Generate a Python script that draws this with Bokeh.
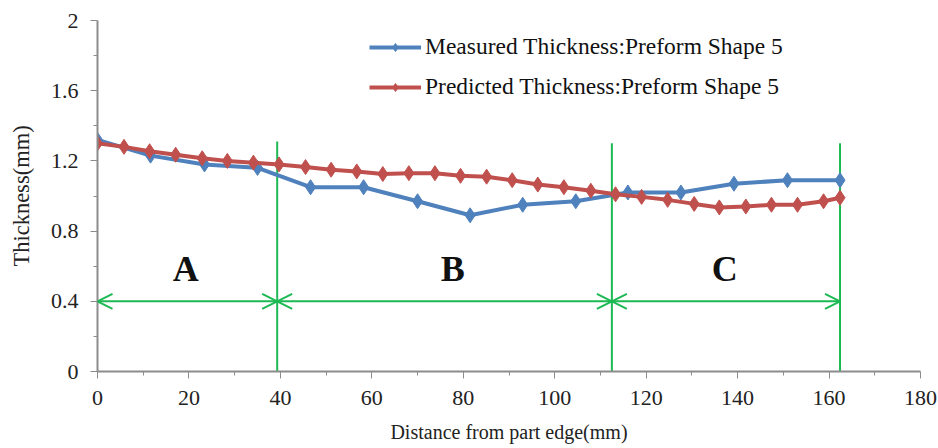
from bokeh.plotting import figure
from bokeh.models import (Range1d, FixedTicker, Legend, LegendItem, Arrow, OpenHead,
                          ColumnDataSource, Label)
from bokeh.embed import file_html
from bokeh.resources import INLINE

# ---- data ----
measured_x = [0, 11.6, 23.4, 35.0, 46.6, 58.2, 70.0, 81.5, 93.0, 104.6, 116.0, 127.6, 139.2, 150.9, 162.4]
measured_y = [1.32, 1.23, 1.18, 1.16, 1.05, 1.05, 0.97, 0.89, 0.95, 0.97, 1.02, 1.02, 1.07, 1.09, 1.09]

predicted_x = [0, 5.8, 11.4, 17.1, 22.9, 28.4, 34.1, 39.7, 45.5, 51.1, 56.7, 62.4, 68.1, 73.8, 79.4,
               85.1, 90.7, 96.3, 102.0, 107.9, 113.3, 119.0, 124.7, 130.5, 136.0, 141.8, 147.4,
               153.1, 158.8, 162.4]
predicted_y = [1.30, 1.28, 1.255, 1.235, 1.215, 1.20, 1.19, 1.18, 1.165, 1.15, 1.14, 1.125, 1.13,
               1.13, 1.115, 1.11, 1.09, 1.065, 1.05, 1.03, 1.01, 0.995, 0.978, 0.955, 0.935, 0.94,
               0.95, 0.95, 0.97, 0.99]

series_names = ["Measured Thickness:Preform Shape 5", "Predicted Thickness:Preform Shape 5"]

zone_bounds = [0, 39.3, 112.5, 162.4]
zone_line_tops = [1.31, 1.30, 1.30]
zone_arrow_y = 0.4
zone_names = ["A", "B", "C"]
zone_label_x = [19.3, 77.7, 137.2]
zone_label_y = 0.585

x_ticks = [0, 20, 40, 60, 80, 100, 120, 140, 160, 180]
y_ticks = [0, 0.4, 0.8, 1.2, 1.6, 2.0]
y_tick_labels = ["0", "0.4", "0.8", "1.2", "1.6", "2"]

BLUE = "#4F81BD"
RED = "#C0504D"
GREEN = "#1DB954"
AXIS = "#8c8c8c"
FONT = "Liberation Serif"

p = figure(width=938, height=448, output_backend="svg", toolbar_location=None,
           x_range=Range1d(0, 180), y_range=Range1d(0, 2),
           min_border_left=97, min_border_right=18, min_border_top=20, min_border_bottom=77)
p.outline_line_color = None
p.grid.visible = False
p.background_fill_color = "white"

# axes
p.xaxis.ticker = FixedTicker(ticks=x_ticks, minor_ticks=[v + 10 for v in x_ticks[:-1]])
p.yaxis.ticker = FixedTicker(ticks=y_ticks, minor_ticks=[v + 0.2 for v in y_ticks[:-1]])
p.yaxis.major_label_overrides = {v: s for v, s in zip(y_ticks, y_tick_labels)}
p.xaxis.major_label_overrides = {v: str(v) for v in x_ticks}
for ax in (p.xaxis, p.yaxis):
    ax.axis_line_color = AXIS
    ax.axis_line_width = 2
    ax.major_tick_line_color = AXIS
    ax.minor_tick_line_color = AXIS
    ax.major_tick_out = 7
    ax.major_tick_in = 0
    ax.minor_tick_out = 4
    ax.minor_tick_in = 0
    ax.major_label_text_font = FONT
    ax.major_label_text_font_size = "22px"
    ax.major_label_text_color = "#222222"
    ax.axis_label_text_font = FONT
    ax.axis_label_text_font_style = "normal"
    ax.axis_label_text_color = "#222222"
p.xaxis.axis_label = "Distance from part edge(mm)"
p.yaxis.axis_label = "Thickness(mm)"
p.xaxis.axis_label_text_font_size = "20px"
p.yaxis.axis_label_text_font_size = "22.5px"
p.xaxis.major_label_standoff = 12
p.yaxis.major_label_standoff = 12
p.xaxis.axis_label_standoff = 13
p.yaxis.axis_label_standoff = 14

# zone lines and arrows
for i in range(3):
    xb = zone_bounds[i + 1]
    p.segment(x0=[xb], y0=[0], x1=[xb], y1=[zone_line_tops[i]], line_color=GREEN, line_width=2)
for i in range(3):
    p.add_layout(Arrow(start=OpenHead(size=15, line_color=GREEN, line_width=2),
                       end=OpenHead(size=15, line_color=GREEN, line_width=2),
                       x_start=zone_bounds[i], y_start=zone_arrow_y,
                       x_end=zone_bounds[i + 1], y_end=zone_arrow_y,
                       line_color=GREEN, line_width=2))
    p.add_layout(Label(x=zone_label_x[i], y=zone_label_y,
                       text=zone_names[i], text_font=FONT, text_font_size="36px",
                       text_font_style="bold", text_align="center", text_baseline="middle",
                       text_color="#111111"))

# series
src_m = ColumnDataSource(dict(x=measured_x, y=measured_y))
src_p = ColumnDataSource(dict(x=predicted_x, y=predicted_y))
lm = p.line("x", "y", source=src_m, line_color=BLUE, line_width=4)
mm = p.scatter("x", "y", source=src_m, marker="diamond", size=15, fill_color=BLUE, line_color=BLUE)
lp = p.line("x", "y", source=src_p, line_color=RED, line_width=4)
mp = p.scatter("x", "y", source=src_p, marker="diamond", size=15, fill_color=RED, line_color=RED)

legend = Legend(items=[LegendItem(label=series_names[0], renderers=[lm, mm]),
                       LegendItem(label=series_names[1], renderers=[lp, mp])],
                location=(272, 271), orientation="vertical",
                label_text_font=FONT, label_text_font_size="23.5px", label_text_color="#111111",
                glyph_width=52, glyph_height=20, label_standoff=4, spacing=13,
                padding=0, margin=0, border_line_alpha=0, background_fill_alpha=0)
p.add_layout(legend)

open("out.html", "w").write(file_html(p, INLINE))
